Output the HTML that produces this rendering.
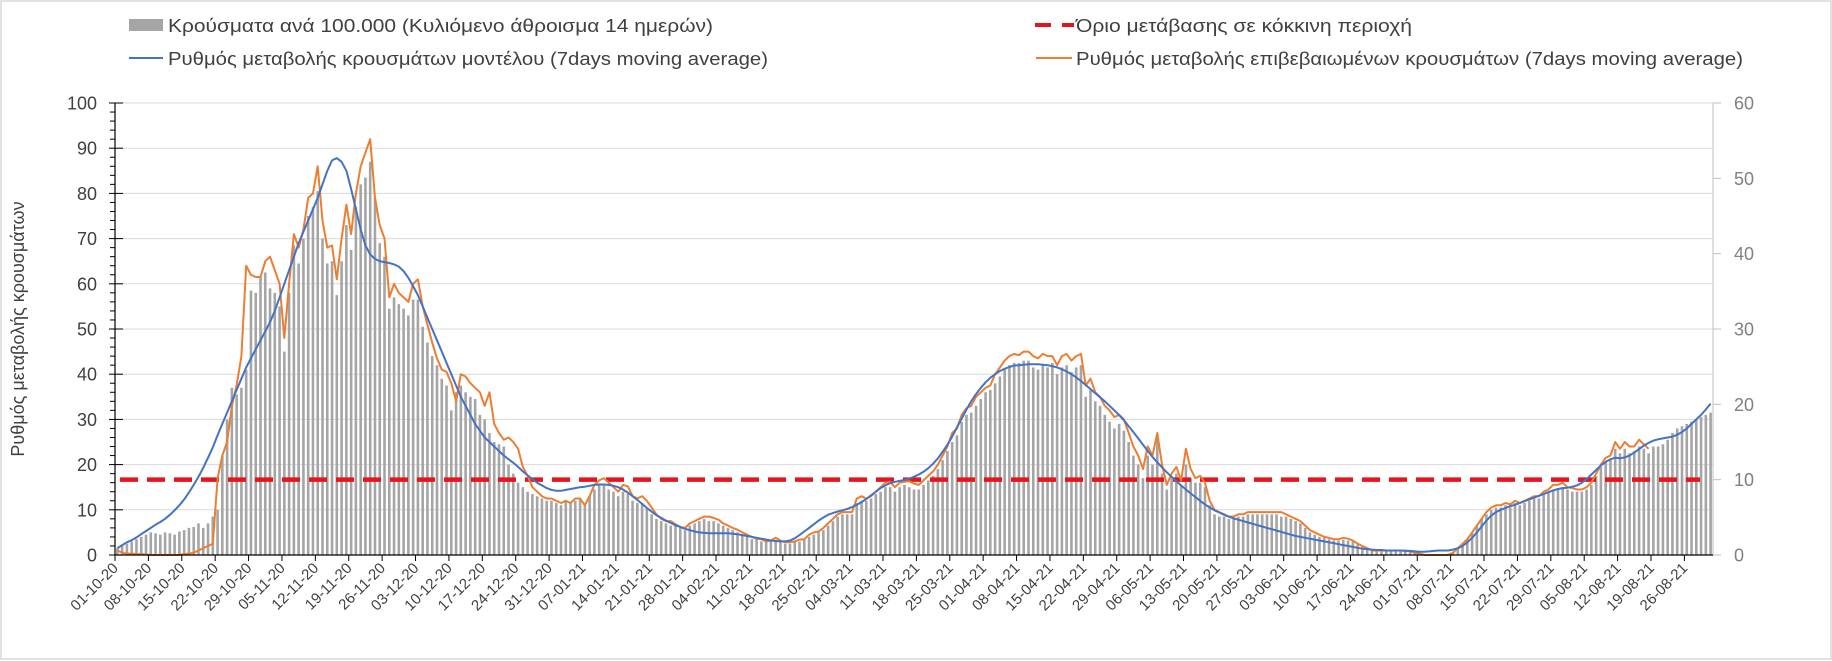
<!DOCTYPE html>
<html><head><meta charset="utf-8">
<style>
html,body{margin:0;padding:0;background:#fff;}
#wrap{position:relative;width:1832px;height:661px;overflow:hidden;}
svg text{font-family:"Liberation Sans","Noto Sans CJK SC",sans-serif;}
</style></head>
<body>
<div id="wrap">
<svg id="chart" width="1832" height="661" viewBox="0 0 1832 661" xmlns="http://www.w3.org/2000/svg">
<rect x="1" y="1" width="1830" height="658" fill="#fff" stroke="#d9d9d9" stroke-width="1.5"/>
<g id="grid"></g>
<g id="bars"></g>
<g id="threshold"></g>
<g id="lines"></g>
<g id="axes"></g>
<g id="legend">
  <g>
    <rect x="129" y="19" width="34" height="12" fill="#a5a5a5"/>
    <text x="168" y="32" font-size="18" fill="#404040" textLength="545" lengthAdjust="spacingAndGlyphs">Κρούσματα ανά 100.000 (Κυλιόμενο άθροισμα 14 ημερών)</text>
  </g>
  <g>
    <line x1="129" y1="58" x2="163" y2="58" stroke="#4472c4" stroke-width="2"/>
    <text x="168" y="65" font-size="18" fill="#404040" textLength="600" lengthAdjust="spacingAndGlyphs">Ρυθμός μεταβολής κρουσμάτων μοντέλου (7days moving average)</text>
  </g>
  <g>
    <line x1="1035" y1="25" x2="1074" y2="25" stroke="#e8141b" stroke-width="4" stroke-dasharray="16,11"/>
    <text x="1076" y="32" font-size="18" fill="#404040" textLength="336" lengthAdjust="spacingAndGlyphs">Όριο μετάβασης σε κόκκινη περιοχή</text>
  </g>
  <g>
    <line x1="1036" y1="58" x2="1072" y2="58" stroke="#ed7d31" stroke-width="2"/>
    <text x="1076" y="65" font-size="18" fill="#404040" textLength="667" lengthAdjust="spacingAndGlyphs">Ρυθμός μεταβολής επιβεβαιωμένων κρουσμάτων (7days moving average)</text>
  </g>
</g>
<text x="0" y="0" font-size="18" fill="#404040" transform="translate(24,329) rotate(-90)" text-anchor="middle">Ρυθμός μεταβολής κρουσμάτων</text>
</svg>
</div>
<script>
// ---- data (daily, starting 01-10-20) ----
const startDate = [2020, 10, 1];
const leftTicks = [0,10,20,30,40,50,60,70,80,90,100];
const rightTicks = [0,10,20,30,40,50,60];
const thresholdValue = [10]; // right-axis units (red zone)
const modelRate = [
1.5,2.2,2.8,3.3,3.9,4.6,5.3, 6,6.7,7.3,8,8.9,9.9,11, 12.3,13.8,15.5,17.3,19.3,21.5,23.8,
26.5,29,31.5,34,36.5,39,41.5, 43.5,45.5,47.5,49.5,51.5,54,57, 60,63,66,69,71.5,74,76.5,
79,82,85,87.3,87.8,87,85, 81,76.5,72,68.5,66.5,65.5,65, 64.8,64.6,64.3,63.8,62.8,61.3,59.5,
57.5,55,52.5,50,47.5,45,42.5, 40,37.5,35,33,31,29,27.5, 26,25,24,23,22,21.2,20.4,
19.5,18.5,17.6,16.8,16,15.4,14.8, 14.4,14.2,14.2,14.4,14.6,14.8,15, 15.1,15.3,15.5,15.6,15.6,15.5,15.3,
15,14.5,13.8,13,12.2,11.3,10.4, 9.6,8.8,8.2,7.6,7.1,6.6,6.2, 5.8,5.5,5.2,5,4.9,4.8,4.8,
4.8,4.8,4.8,4.7,4.6,4.4,4.2, 4,3.8,3.6,3.4,3.2,3.1,3, 3,3.2,3.7,4.4,5.2,6,6.8,
7.6,8.3,8.9,9.3,9.6,9.9,10.2, 10.6,11.1,11.7,12.4,13.2,14,14.8, 15.4,15.9,16.2,16.4,16.6,16.9,17.3,
17.8,18.4,19.2,20.2,21.4,22.8,24.4, 26.2,28.2,30.2,32.2,34,35.6,37, 38.2,39.2,40,40.7,41.2,41.6,41.9,
42,42.1,42.2,42.2,42.2,42.1,42, 41.8,41.5,41.1,40.6,40,39.3,38.5, 37.6,36.7,35.8,34.9,34,33,32,
31,29.8,28.5,27.2,25.8,24.4,23, 21.7,20.5,19.4,18.3,17.3,16.3,15.4, 14.5,13.6,12.8,12,11.2,10.5,9.9,
9.4,8.9,8.5,8.1,7.8,7.5,7.2, 6.9,6.6,6.3,6,5.7,5.4,5.1, 4.8,4.5,4.2,4,3.8,3.6,3.4,
3.2,3,2.8,2.6,2.4,2.2,2, 1.8,1.6,1.4,1.3,1.2,1.1,1.1, 1,1,1,1,0.9,0.9,0.8,
0.7,0.7,0.8,0.9,1,1,1, 1.2,1.5,2,2.8,3.8,5,6.3, 7.6,8.7,9.5,10,10.4,10.8,11.1,
11.5,11.9,12.3,12.7,13.1,13.5,13.9, 14.3,14.6,14.8,14.9,15.1,15.4,16, 16.8,17.8,18.8,19.8,20.6,21.2,21.5,
21.4,21.6,22,22.7,23.4,24.2,24.8, 25.3,25.6,25.8,26,26.2,26.6,27.2, 28,29,30,31,32.2,33.5
];
const confirmedRate = [
1,0.5,0.3,0.3,0.2,0.2,0.1, 0,0,0,0,0,0,0, 0.2,0.3,0.5,1,1.5,2,2.5,
17,22,25,33,37.5,44,64, 62,61.5,61.5,65,66,63,60, 48,60,71,68,72,79,80,
86,74,68,68.5,61,70,77.5, 71,80,86,89,92,79,73, 70,57,60,58,57,56,60,
61,55,51,47,43.5,41,40.5, 38,34,40,39.5,38,37,36, 33,36,29,27,25.5,26,25,
23.5,19.5,17.5,15,14,13,12.5, 12.5,12,11.5,12,11.5,12.5,12.5, 11,13,15.5,16.5,17,16,15,
14,15.5,15.2,13,12.5,13,12, 10.5,9,8,7.5,7.5,6.8,6.2, 6,7,7.5,8,8.5,8.5,8.2,
7.8,7,6.5,6,5.6,5,4.5, 4,3.6,3.5,3,3.2,3.8,3.2, 2.8,2.8,3,3.4,3.5,4.5,5,
5.2,6,7,8,9,9.5,9.5, 9.5,12.5,13,12.5,13,14,15, 16,16.2,15,16,16.2,16.3,15.8,
15.5,16.5,17.5,18.5,20,22,24, 27,28,31,32.5,33,35,36, 37,37.5,40,41.5,43,44,44.5,
44.2,45,45,44,43.5,44.5,44, 44,42,44,44.5,43,44,44.5, 37.5,39,36,35,33,32,30.5,
31,30,27,24,22,19,24, 22,27,20,15.5,18,19.5,16.5, 23.5,19,17,17.5,16,12,10,
9.5,9,8.5,8.5,9,9,9.5, 9.5,9.5,9.5,9.5,9.5,9.5,9.5, 9,8.5,8,7.5,6.5,5.5,5,
4.5,4,3.8,3.5,3.5,3.8,3.6, 3.2,2.5,2,1.5,1,1,1, 1,1,1,1,1,0.8,0.5,
0.3,0,0,0,0,0,0, 0.5,1.5,2.5,3.5,5,6.5,8, 9.5,10.5,11,11,11.5,11.2,12,
11.5,12,12.5,13,13,14,14.5, 15.5,15.5,16,15,14.8,14.5,14.5, 15,16,18,20,21.5,22,25,
23.5,25,24,24,25.5,24.5,23.5
];
const casesPer100k = [
1.5,2,2.5,3,3.5,4,4.5, 5,4.8,4.5,5,4.8,4.5,5.2, 5.5,6,6.2,7,6,7,8.5,
10,22,30,37,35.5,37,41, 58.5,58,61.5,62.5,59,58,55, 45,58,68.5,64.5,70,75,77,
80.5,70,64.5,65,57.5,65,73, 67.5,77,82,83.5,87,79,69, 66,54.5,57,55.5,54.5,53,56.5,
56.5,50.5,47,44,42,39,37.5, 32,36,37.5,36,35,34.5,31, 30,27,25,24.5,24,20,18,
16,15,14,13.5,13,12.5,12, 12,11.5,11,12,11.5,12,12.5, 11,13,14.5,15.5,15.5,14.5,14,
13,14,13.5,12,11.5,11.5,10.5, 9,8,7.5,7,6.5,6.5,6, 5.5,6.5,7,7.5,8,7.5,7.5,
7,6.5,6,5.5,5,4.5,4, 3.5,3.5,3,3,3,3,3, 2.5,2.5,3,3,3.5,4,4.5,
5,5.5,6.5,7.5,8.5,9,9, 9,11.5,12,12,12.5,13.5,14, 15,15,14,15,15.5,15,14.5,
14.5,15.5,16.5,17.5,19,21,23, 25,26.5,29.5,31,31.5,33,34.5, 36,36.5,38,39.5,41,42,42.5,
42.5,43,43,41.5,41,42,41.5, 42.5,40,41.5,42,40.5,41.5,42, 35,36.5,34,33,31,29.5,28,
29,27.5,25,22,20,17,22, 20,26,18,14.5,17,18,15.5, 20,17,16,16,15,11,9,
8.5,8.5,8,8,8.5,8.5,9, 9,9,9,9,9,9,8.5, 8.5,8,7.5,7,6,5,4.5,
4,3.8,3.5,3.2,3.2,3.4,3.2, 3,2.3,1.8,1.4,1,1,1, 1,1,1,1,1,0.8,0.5,
0.3,0.1,0.1,0.1,0.1,0.2,0.3, 0.5,1.5,2.5,3.5,5,6.5,8, 9,10,10.5,10.5,11,10.5,11.5,
11,11.5,12,12.5,12.5,13.5,14, 14.5,14.5,15,14.5,14,14,14, 14.5,15.5,17.5,19.5,20.5,21,23.5,
22.5,23.5,22.5,23,24,23.5,22.5, 24,24,24.5,25.5,27,28,28.5, 29,29.5,30,30.5,31,31.5
];

// ---- layout ----
const NS = "http://www.w3.org/2000/svg";
const X0 = 115, X1 = 1713, Y0 = 555, YT = 103;
const nDays = modelRate.length;
const dayW = (X1 - X0) / nDays;
const xBand = d => X0 + d * dayW;
const xMid = d => X0 + (d + 0.5) * dayW;
const yLeft = v => Y0 - (v / 100) * (Y0 - YT);
const yRight = v => Y0 - (v / 60) * (Y0 - YT);
function mk(tag, attrs, parent){ const e=document.createElementNS(NS,tag); for(const k in attrs) e.setAttribute(k,attrs[k]); parent.appendChild(e); return e; }
const gGrid=document.getElementById('grid'), gBars=document.getElementById('bars'),
      gThr=document.getElementById('threshold'), gLines=document.getElementById('lines'), gAx=document.getElementById('axes');

// grid + left ticks
leftTicks.forEach(t=>{
  const y=yLeft(t);
  if(t>0){ const g=mk('line',{x1:X0,y1:y,x2:X1,y2:y,stroke:'#d9d9d9','stroke-width':1},gGrid);
    
     }
  const tk=mk('line',{x1:X0-6,y1:y,x2:X0+8,y2:y,stroke:'#000','stroke-width':1},gAx);
  
  
  const lb=mk('text',{x:97,y:y+6.5,'font-size':18,'text-anchor':'end',fill:'#404040'},gAx);
  lb.textContent=t;
  
  
});
for(let v=2; v<100; v+=2){ if(v%10===0) continue; const y=yLeft(v);
  const m=mk('line',{x1:X0-5,y1:y,x2:X0,y2:y,stroke:'#000','stroke-width':1},gAx);
  
   }
// right ticks
rightTicks.forEach(t=>{
  const y=yRight(t);
  const tk=mk('line',{x1:X1,y1:y,x2:X1+8,y2:y,stroke:'#bfbfbf','stroke-width':1},gAx);
  
  
  const lb=mk('text',{x:1734,y:y+6.5,'font-size':18,fill:'#808080'},gAx);
  lb.textContent=t;
  
  
});
// axes lines
const la=mk('line',{x1:X0,y1:YT,x2:X0,y2:Y0,stroke:'#000','stroke-width':1.2},gAx);


const ra=mk('line',{x1:X1,y1:YT,x2:X1,y2:Y0,stroke:'#bfbfbf','stroke-width':1},gAx);


const xa=mk('line',{x1:X0,y1:Y0,x2:X1,y2:Y0,stroke:'#000','stroke-width':1.2},gAx);



// bars
casesPer100k.forEach((v,d)=>{
  const y=yLeft(v);
  const b=mk('rect',{x:xMid(d)-1.3,y:y,width:2.6,height:Math.max(0,Y0-y),fill:'#a5a5a5'},gBars);
  
  
});
// threshold
const ty=yRight(thresholdValue[0]);
const tl=mk('line',{x1:X0+5,y1:ty,x2:1700,y2:ty,stroke:'#e8141b','stroke-width':4.5,'stroke-dasharray':'18,9'},gThr);


// lines
function linePath(arr){ let s=''; let pen=false;
  arr.forEach((v,d)=>{ if(v==null){pen=false;return;} s+=(pen?'L':'M')+xMid(d).toFixed(1)+','+yLeft(v).toFixed(1); pen=true; }); return s; }
const po=mk('path',{d:linePath(confirmedRate),fill:'none',stroke:'#ed7d31','stroke-width':2,'stroke-linejoin':'round'},gLines);


const pb=mk('path',{d:linePath(modelRate),fill:'none',stroke:'#4472c4','stroke-width':2,'stroke-linejoin':'round'},gLines);



// x ticks + labels every 7 days
const base=new Date(startDate[0],startDate[1]-1,startDate[2]);
for(let d=0; d<nDays; d+=7){
  const x=xBand(d);
  const tk=mk('line',{x1:x,y1:Y0,x2:x,y2:Y0+6,stroke:'#000','stroke-width':1},gAx);
  
  
  const dt=new Date(base.getTime()+d*86400000);
  const s=String(dt.getDate()).padStart(2,'0')+'-'+String(dt.getMonth()+1).padStart(2,'0')+'-'+String(dt.getFullYear()%100).padStart(2,'0');
  const lb=mk('text',{x:0,y:0,'font-size':15,'text-anchor':'end',fill:'#404040',transform:'translate('+(x+4)+','+(Y0+14)+') rotate(-45)'},gAx);
  lb.textContent=s;
  
  
}
</script>
</body></html>
